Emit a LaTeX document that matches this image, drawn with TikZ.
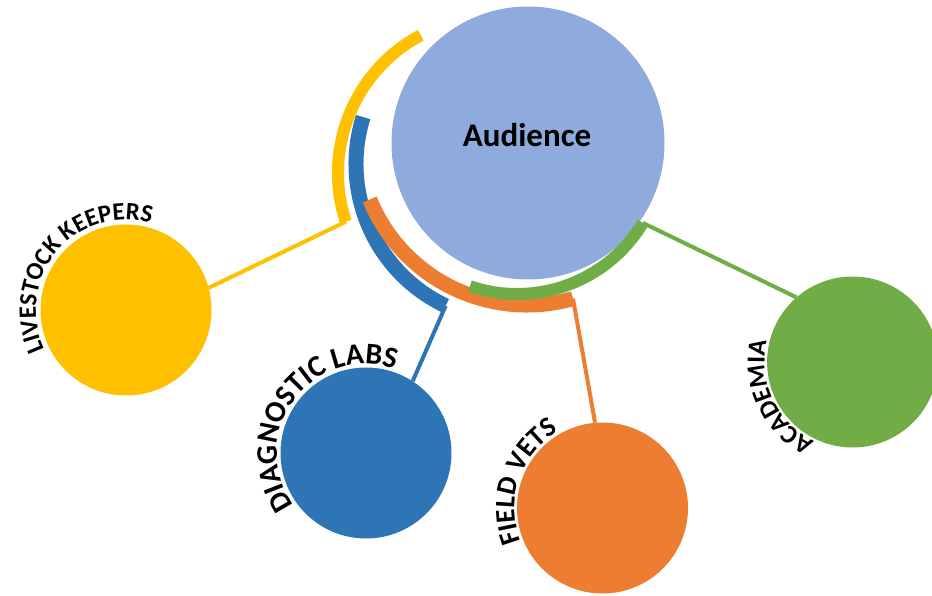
\documentclass[tikz,border=0pt]{standalone}
\usepackage{fontspec}
\newfontfamily\calibri{Carlito}
\usetikzlibrary{decorations.text}
\definecolor{audblue}{HTML}{8FAADC}
\definecolor{keepyellow}{HTML}{FFC000}
\definecolor{labblue}{HTML}{2E75B6}
\definecolor{vetorange}{HTML}{ED7D31}
\definecolor{acadgreen}{HTML}{70AD47}
\newcommand\lbl[1]{\calibri\bfseries\fontsize{#1}{#1}\selectfont}
\begin{document}
\begin{tikzpicture}[x=1pt,y=1pt,
  blob/.style={circle,inner sep=0pt,minimum size=171pt},
  band/.style={line width=#1},
  link/.style={line width=4pt}]
\useasboundingbox (0,0) rectangle (932,595);
\node[blob,fill=audblue,minimum size=273pt] (aud) at (528,452) {};
\node[anchor=base] (audtext) at (527,448) {\lbl{33}Audience};
\node[blob,fill=keepyellow] (keepers) at (126,285) {};
\node[blob,fill=labblue] (labs) at (366,142) {};
\node[blob,fill=vetorange] (vets) at (602.5,87) {};
\node[blob,fill=acadgreen] (acad) at (852.6,233) {};
\draw[band=12pt,keepyellow] (494,422) ++(118:156pt) arc[start angle=118,end angle=198.2,radius=156pt] coordinate (ky);
\draw[band=15pt,labblue] (513,431) ++(162.6:157pt) arc[start angle=162.6,end angle=244.6,radius=157pt] coordinate (lb);
\draw[band=15pt,vetorange] (527,460) ++(202.3:170pt) arc[start angle=202.3,end angle=285.7,radius=170pt] coordinate (vo);
\draw[band=12pt,acadgreen] (517,448) ++(251.3:147pt) arc[start angle=251.3,end angle=328.9,radius=147pt] coordinate (ag);
\draw[link,keepyellow] (ky) -- (keepers.15);
\draw[link,labblue] (lb) -- (labs.57);
\draw[link,vetorange] (vo) -- (vets.95);
\draw[link,acadgreen] (ag) -- (acad.131);
\path[decorate,decoration={text along path,text align=center,text={|\lbl{25}|LIVESTOCK KEEPERS}}]
  (keepers.center) ++(230:90pt) arc[start angle=230,end angle=50,radius=90pt];
\path[decorate,decoration={text along path,text align=center,text={|\lbl{30}|DIAGNOSTIC LABS}}]
  (labs.center) ++(233.5:89pt) arc[start angle=233.5,end angle=53.5,radius=89pt];
\path[decorate,decoration={text along path,text align=center,text={|\lbl{28}|FIELD VETS}}]
  (vets.center) ++(251:88pt) arc[start angle=251,end angle=71,radius=88pt];
\path[decorate,decoration={text along path,text align=center,text={|\lbl{26}|ACADEMIA}}]
  (acad.center) ++(295.5:88pt) arc[start angle=295.5,end angle=115.5,radius=88pt];
\end{tikzpicture}
\end{document}
